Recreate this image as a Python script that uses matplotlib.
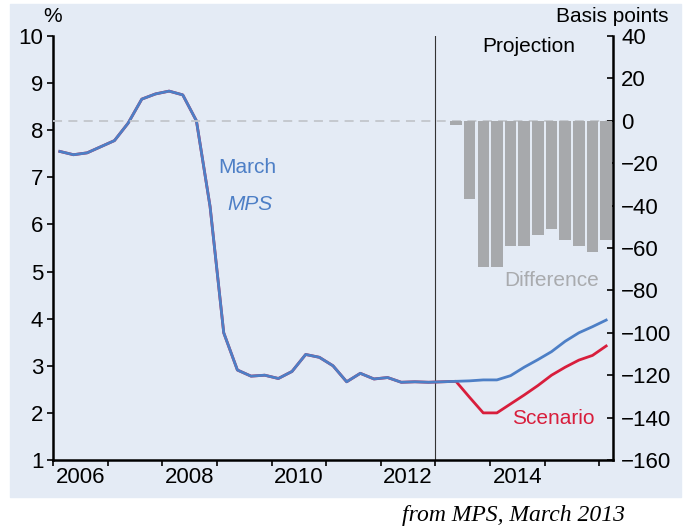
import numpy as np
import matplotlib
matplotlib.use("Agg")
import matplotlib.pyplot as plt
from matplotlib.patches import Rectangle

plt.rcParams['font.family'] = ['Liberation Sans', 'DejaVu Sans']

# quarterly mid-points, 2006 Q1 .. 2016 Q1
quarters = [2006.125 + 0.25 * i for i in range(41)]

march_mps = [7.55, 7.48, 7.52, 7.65, 7.78, 8.15, 8.66, 8.77, 8.83, 8.75,
             8.20, 6.38, 3.70, 2.91, 2.78, 2.80, 2.73, 2.88, 3.24, 3.18,
             3.00, 2.66, 2.84, 2.72, 2.75, 2.65, 2.66, 2.65,
             2.66, 2.67, 2.68, 2.70, 2.70, 2.79, 2.97, 3.13, 3.30, 3.52,
             3.70, 3.83, 3.97]

scenario = march_mps[:30] + [2.33, 2.00, 2.00, 2.19, 2.38, 2.58, 2.80,
                             2.97, 3.12, 3.22, 3.42]

bar_quarters = quarters[29:]
difference = [-2, -37, -69, -69, -59, -59, -54, -51, -56, -59, -62, -56]

left_ticks = list(range(1, 11))
right_ticks = list(range(-160, 41, 20))
year_ticks = list(range(2006, 2017))
year_labels = ['2006', '2008', '2010', '2012', '2014']

bg = '#e4ebf5'
blue = '#4d7fc6'
red = '#d81e3c'
grey = '#a7a9ac'

fig = plt.figure(figsize=(6.88, 5.31), dpi=100, facecolor='white')
fig.add_artist(Rectangle((10 / 688, 1 - 497 / 531), 671 / 688, 493 / 531,
                         transform=fig.transFigure, color=bg, zorder=-10))

ax = fig.add_axes([53 / 688, 1 - 460 / 531, 560 / 688, 424 / 531])
ax.set_facecolor(bg)
ax2 = ax.twinx()

ax.plot(quarters, scenario, color=red, lw=2, zorder=3)
ax.plot(quarters, march_mps, color=blue, lw=2, zorder=4)
ax.axvline(2013, color='#333333', lw=0.8, zorder=2)

ax2.axhline(0, color='#c2c6cc', lw=1.3, ls=(0, (5, 3.5)), zorder=1)
ax2.bar(bar_quarters, difference, width=0.21, color=grey, zorder=2)

ax.set_xlim(2006, 2016.25)
ax.set_ylim(1, 10)
ax2.set_ylim(-160, 40)

ax.set_yticks(left_ticks)
ax2.set_yticks(right_ticks)
ax2.set_yticklabels([str(t).replace('-', '\u2212') for t in right_ticks])

ax.set_xticks(year_ticks)
ax.set_xticklabels([])
ax.set_xticks([int(y) + 0.5 for y in year_labels], minor=True)
ax.set_xticklabels(year_labels, minor=True)

for a in (ax, ax2):
    a.spines['top'].set_visible(False)
    for s in a.spines.values():
        s.set_linewidth(1.8)
ax.spines['right'].set_visible(False)
ax2.spines['left'].set_visible(False)
ax2.spines['bottom'].set_visible(False)

ax.tick_params(axis='y', direction='out', length=4, width=1.2, labelsize=16, pad=3)
ax.tick_params(axis='x', which='major', direction='out', length=4, width=1.2)
ax.tick_params(axis='x', which='minor', length=0, labelsize=16, pad=5)
ax2.tick_params(axis='y', direction='in', length=4, width=1.2, labelsize=16, pad=6)

ax.text(2009.56, 7.2, 'March', color=blue, fontsize=15, ha='center', va='center')
ax.text(2009.6, 6.43, 'MPS', color=blue, fontsize=15, style='italic',
        ha='center', va='center')
ax.text(2015.12, 4.82, 'Difference', color='#a9abae', fontsize=15,
        ha='center', va='center')
ax.text(2015.15, 1.89, 'Scenario', color=red, fontsize=15,
        ha='center', va='center')
ax.text(2014.7, 9.77, 'Projection', color='black', fontsize=15,
        ha='center', va='center')

fig.text(53 / 688, 1 - 16 / 531, '%', fontsize=15, ha='center', va='center')
fig.text(669 / 688, 1 - 16 / 531, 'Basis points', fontsize=15, ha='right', va='center')
fig.text(514 / 688, 1 - 516 / 531, 'from MPS, March 2013', fontsize=17,
         family='Liberation Serif', style='italic', ha='center', va='center')

fig.savefig('out.png', dpi=100, facecolor='white')
